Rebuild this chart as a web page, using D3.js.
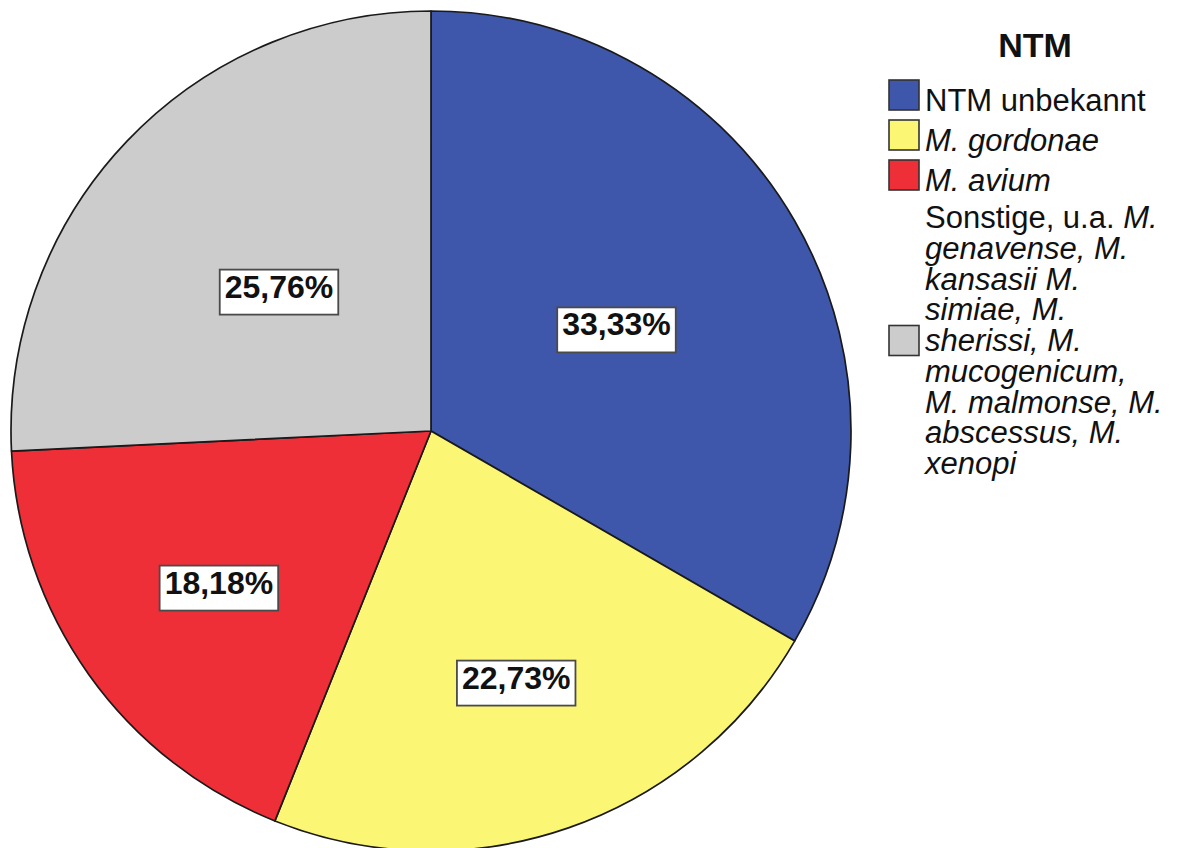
<!DOCTYPE html>
<html>
<head>
<meta charset="utf-8">
<script src="https://cdn.jsdelivr.net/npm/d3@7"></script>
<style>
  body { margin: 0; background: #fff; }
  svg { display: block; font-family: "Liberation Sans", Arial, sans-serif; }
</style>
</head>
<body>
<div id="art"></div>
<script type="text/javascript">
// data
var categories = ["NTM unbekannt", "M. gordonae", "M. avium", "Sonstige"];
var percents = [33.33, 22.73, 18.18, 25.76];
var colors = ["#3e57aa", "#fbf774", "#ee2f38", "#cccccc"];
var legendTitle = "NTM";
// legend label lines, [text, italic]
var legendLines = [
  [["NTM unbekannt", false]],
  [["M. gordonae", true]],
  [["M. avium", true]],
  [["Sonstige, u.a. ", false], ["M.", true]],
  [["genavense, M.", true]],
  [["kansasii M.", true]],
  [["simiae, M.", true]],
  [["sherissi, M.", true]],
  [["mucogenicum,", true]],
  [["M. malmonse, M.", true]],
  [["abscessus, M.", true]],
  [["xenopi", true]]
];
var legendGroups = [[0], [1], [2], [3, 4, 5, 6, 7, 8, 9, 10, 11]];

var w = 1188, h = 848,
    cx = 431, cy = 431, r = 420;
// label distance as a fraction of radius, per slice
var labelFrac = [0.51, 0.62, 0.62, 0.50];

var svg = d3.select("#art").append("svg")
    .attr("width", w)
    .attr("height", h);

var pie = d3.pie().sort(null).value(function(d) { return d; });
var arc = d3.arc().innerRadius(0).outerRadius(r);
var arcs = pie(percents);

var g = svg.append("g").attr("transform", "translate(" + cx + "," + cy + ")");

g.selectAll("path")
    .data(arcs)
  .enter().append("path")
    .attr("d", arc)
    .style("fill", function(d, i) { return colors[i]; })
    .style("stroke", "#1a1a1a")
    .style("stroke-width", 1.7)
    .style("stroke-linejoin", "round");

function fmt(v) { return v.toFixed(2).replace(".", ",") + "%"; }

var labels = g.selectAll("g.lbl")
    .data(arcs)
  .enter().append("g")
    .attr("class", "lbl")
    .attr("transform", function(d, i) {
      var a = (d.startAngle + d.endAngle) / 2, k = labelFrac[i] * r;
      return "translate(" + (Math.sin(a) * k) + "," + (-Math.cos(a) * k) + ")";
    });

labels.append("rect");
labels.append("text")
    .attr("text-anchor", "middle")
    .attr("dy", "0.36em")
    .style("font-weight", "bold")
    .style("font-size", "32px")
    .style("fill", "#111")
    .text(function(d) { return fmt(d.value); });

labels.each(function() {
  var sel = d3.select(this),
      bb = sel.select("text").node().getBBox();
  sel.select("rect")
    .attr("x", bb.x - 5)
    .attr("y", bb.y + 1)
    .attr("width", bb.width + 10)
    .attr("height", bb.height + 9)
    .style("fill", "#fff")
    .style("stroke", "#4a4a4a")
    .style("stroke-width", 1.8);
});

// legend
var lx = 889, sw = 30, tx = 925, lh = 30.75;

svg.append("text")
    .attr("x", 1035)
    .attr("y", 57)
    .attr("text-anchor", "middle")
    .style("font-weight", "bold")
    .style("font-size", "34px")
    .style("fill", "#111")
    .text(legendTitle);

var rowTop = [80, 120, 160, 208];

legendGroups.forEach(function(lines, gi) {
  var first = rowTop[gi];
  var base0 = gi < 3 ? first + 31 : first + 20;
  lines.forEach(function(li, j) {
    var t = svg.append("text")
        .attr("x", tx)
        .attr("y", base0 + j * lh)
        .style("font-size", "31px")
        .style("fill", "#111");
    legendLines[li].forEach(function(seg) {
      t.append("tspan")
        .style("font-style", seg[1] ? "italic" : "normal")
        .text(seg[0]);
    });
  });
  var top = gi < 3 ? first : (base0 - 21 + base0 + (lines.length - 1) * lh) / 2 - sw / 2;
  svg.append("rect")
      .attr("x", lx)
      .attr("y", top)
      .attr("width", sw)
      .attr("height", sw)
      .style("fill", colors[gi])
      .style("stroke", "#333")
      .style("stroke-width", 1.6);
});
</script>
</body>
</html>
